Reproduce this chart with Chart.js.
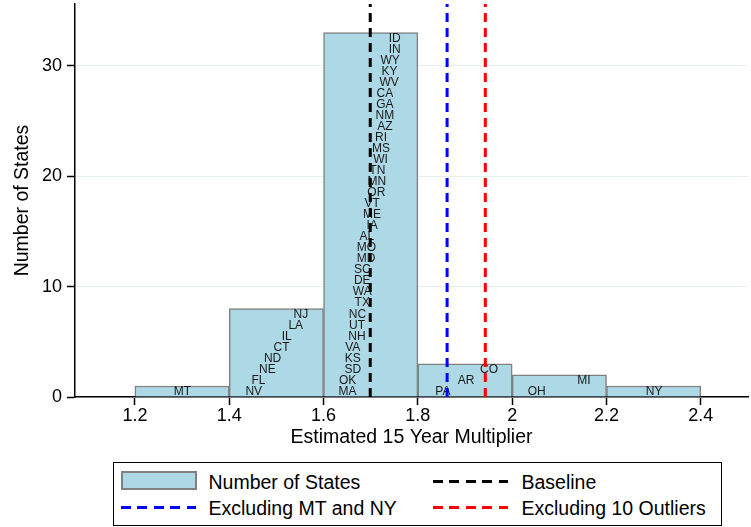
<!DOCTYPE html>
<html>
<head>
<meta charset="utf-8">
<script src="https://cdn.jsdelivr.net/npm/chart.js@4.4.1/dist/chart.umd.min.js"></script>
<style>
body{margin:0;background:#fff;font-family:"Liberation Sans",Arial,sans-serif;}
#wrap{position:relative;width:751px;height:527px;overflow:hidden}
#c{position:absolute;left:0;top:0}
#legend{position:absolute;left:113px;top:462px;width:607px;height:62px;border:1.5px solid #000;box-sizing:content-box}
#legend .t{position:absolute;font-size:19.5px;line-height:20px;color:#000;white-space:nowrap}
#legend .sw{position:absolute;box-sizing:border-box;background:#add8e6;border:2px solid #808080}
#legend .dash{position:absolute;height:3px}
</style>
</head>
<body>
<div id="wrap">
  <canvas id="c" width="751" height="450"></canvas>
  <div id="legend">
    <div class="sw" style="left:6.5px;top:7.5px;width:76px;height:19px"></div>
    <div class="t" style="left:94.5px;top:8.75px">Number of States</div>
    <div class="dash" style="left:319px;top:16.5px;width:75px;background:repeating-linear-gradient(90deg,#000 0 10px,transparent 10px 16.5px)"></div>
    <div class="t" style="left:407.5px;top:8.75px">Baseline</div>
    <div class="dash" style="left:6.5px;top:43px;width:75px;background:repeating-linear-gradient(90deg,#0000ff 0 10px,transparent 10px 16.5px)"></div>
    <div class="t" style="left:94.5px;top:34.75px">Excluding MT and NY</div>
    <div class="dash" style="left:319px;top:43px;width:75px;background:repeating-linear-gradient(90deg,#ff0000 0 10px,transparent 10px 16.5px)"></div>
    <div class="t" style="left:407.5px;top:34.75px">Excluding 10 Outliers</div>
  </div>
</div>
<script>
// histogram bins (width 0.2)
const BIN_CENTERS=[1.3,1.5,1.7,1.9,2.1,2.3];
const COUNTS=[1,8,33,3,2,1];
const BIN_WIDTH=0.2;

// state multipliers, listed bottom-up inside each bin
const STATES=["MT",
  "NV","FL","NE","ND","CT","IL","LA","NJ",
  "MA","OK","SD","KS","VA","NH","UT","NC","TX","WA","DE","SC","MD","MO","AL","IA","ME","VT","OR","MN","TN","WI","MS","RI","AZ","NM","GA","CA","WV","KY","WY","IN","ID",
  "PA","AR","CO",
  "OH","MI",
  "NY"];
const MULT=[1.301,
  1.452,1.462,1.481,1.492,1.511,1.522,1.541,1.552,
  1.651,1.651,1.662,1.662,1.662,1.671,1.671,1.672,1.682,1.682,1.682,1.682,1.690,1.691,1.692,1.703,1.703,1.703,1.712,1.713,1.714,1.721,1.722,1.722,1.730,1.730,1.730,1.730,1.739,1.740,1.741,1.751,1.751,
  1.853,1.902,1.951,
  2.052,2.152,
  2.301];

const BASELINE=1.699, EXCL_MT_NY=1.862, EXCL_OUTLIERS=1.943;
const X_TICKS=[1.2,1.4,1.6,1.8,2,2.2,2.4];
const Y_TICKS=[0,10,20,30];
const X_MIN=1.073, X_MAX=2.5, Y_MAX=35.6;

const FONT='"Liberation Sans", Arial, sans-serif';
Chart.defaults.font.family=FONT;
Chart.defaults.color="#000";

const stateLabels={
  id:"stateLabels",
  afterDatasetDraw(chart,args){
    if(args.index!==0) return;
    const {ctx,scales:{x,y}}=chart;
    const seen={};
    ctx.save();
    ctx.font="12px "+FONT;
    ctx.fillStyle="#1a1a1a";
    ctx.textAlign="center";
    ctx.textBaseline="middle";
    STATES.forEach((s,i)=>{
      const v=MULT[i];
      const b=BIN_CENTERS.findIndex(c=>v>=c-BIN_WIDTH/2&&v<c+BIN_WIDTH/2);
      seen[b]=(seen[b]||0)+1;
      ctx.fillText(s,x.getPixelForValue(v),y.getPixelForValue(seen[b]-0.5));
    });
    ctx.restore();
  }
};

function vline(v,color,label,order){
  return {type:"line",label,data:[{x:v,y:0},{x:v,y:Y_MAX}],borderColor:color,borderWidth:3,
    borderDash:[9,6],pointRadius:0,fill:false,order};
}

new Chart(document.getElementById("c"),{
  type:"bar",
  data:{datasets:[
    {type:"bar",label:"Number of States",data:BIN_CENTERS.map((c,i)=>({x:c,y:COUNTS[i]})),
      backgroundColor:"#add8e6",borderColor:"#808080",borderWidth:1.5,
      barPercentage:1,categoryPercentage:1,order:3},
    vline(BASELINE,"#000000","Baseline",2),
    vline(EXCL_MT_NY,"#0000ff","Excluding MT and NY",1),
    vline(EXCL_OUTLIERS,"#ff0000","Excluding 10 Outliers",0)
  ]},
  options:{
    responsive:false,animation:false,
    layout:{padding:{top:4,right:3,left:0,bottom:0}},
    plugins:{legend:{display:false},tooltip:{enabled:false}},
    scales:{
      x:{type:"linear",min:X_MIN,max:X_MAX,offset:false,
        afterBuildTicks:s=>{s.ticks=X_TICKS.map(v=>({value:v}));},
        afterFit:s=>{s.height=53;s.paddingLeft=0;s.paddingRight=0;},
        grid:{drawOnChartArea:false,offset:false,tickLength:8,tickColor:"#000",tickWidth:1.5},
        border:{color:"#000",width:1.5},
        ticks:{padding:0,font:{size:18},color:"#000",maxRotation:0,callback:v=>String(+(+v).toFixed(1))},
        title:{display:true,text:"Estimated 15 Year Multiplier",font:{size:19.5},color:"#000",padding:{top:0,bottom:1}}
      },
      y:{min:0,max:Y_MAX,
        afterBuildTicks:s=>{s.ticks=Y_TICKS.map(v=>({value:v}));},
        afterFit:s=>{s.width=75;s.paddingTop=0;s.paddingBottom=0;},
        grid:{color:"#e6eef2",lineWidth:1,tickLength:8,tickColor:"#000",tickWidth:1.5},
        border:{color:"#000",width:1.5},
        ticks:{padding:5,font:{size:18},color:"#000",callback:v=>String(v)},
        title:{display:true,text:"Number of States",font:{size:19.5},color:"#000",padding:{top:11,bottom:0}}
      }
    }
  },
  plugins:[stateLabels]
});
</script>
</body>
</html>
